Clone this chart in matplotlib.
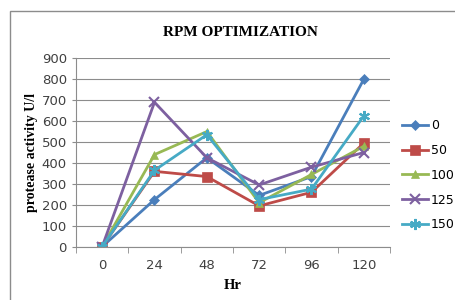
# RPM optimization chart
import numpy as np
import matplotlib.pyplot as plt
from matplotlib.patches import Rectangle

# data
hours = ['0', '24', '48', '72', '96', '120']
rpm_labels = ['0', '50', '100', '125', '150']
rpm_0 = [0, 225, 425, 245, 335, 800]
rpm_50 = [0, 360, 335, 195, 260, 495]
rpm_100 = [0, 440, 550, 210, 345, 480]
rpm_125 = [0, 690, 425, 295, 380, 450]
rpm_150 = [0, 365, 535, 225, 275, 625]

series = [rpm_0, rpm_50, rpm_100, rpm_125, rpm_150]
colors = ['#4A7EBB', '#BE4B48', '#98B954', '#7D60A0', '#46AAC5']
markers = ['D', 's', '^', 'x', (6, 2, 0)]
msizes = [5, 6.5, 6, 7, 8]

fig = plt.figure(figsize=(4.56, 3.0), dpi=100)
# outer chart border (cut off at right and bottom like the reference)
fig.patches.append(Rectangle((10/456, -0.1), 1.0, (300-11)/300 + 0.1,
                             transform=fig.transFigure, fill=False,
                             edgecolor='#8c8c8c', linewidth=1.0))

ax = fig.add_axes([76/456, (300-246.7)/300, (390-76)/456, (246.7-58.3)/300])
x = np.arange(len(hours))
for vals, lab, c, m, ms in zip(series, rpm_labels, colors, markers, msizes):
    ax.plot(x, vals, color=c, marker=m, markersize=ms, linewidth=2,
            markeredgewidth=1.5 if m in ('x', (6, 2, 0)) else 0.5,
            markeredgecolor=c, label=lab)

ax.set_xlim(-0.5, 5.5)
ax.set_ylim(0, 900)
ax.set_yticks(np.arange(0, 901, 100))
ax.set_xticks(x)
ax.set_xticklabels(hours)
ax.set_xticks(np.arange(-0.5, 5.6, 1), minor=True)
ax.tick_params(axis='x', which='major', length=0, pad=9, labelsize=9.5, labelcolor='#404040')
ax.tick_params(axis='x', which='minor', length=4, color='#8c8c8c')
ax.tick_params(axis='y', length=3, color='#8c8c8c', labelsize=9.5, labelcolor='#404040')
ax.grid(axis='y', color='#8c8c8c', linewidth=0.8)
ax.set_axisbelow(True)
for s in ['top', 'right']:
    ax.spines[s].set_visible(False)
for s in ['left', 'bottom']:
    ax.spines[s].set_color('#8c8c8c')

serif = 'Liberation Serif'
fig.text(240/456, 1 - 32/300, 'RPM OPTIMIZATION', ha='center', va='center',
         fontsize=11, fontweight='bold', family=serif)
ax.set_xlabel('Hr', fontsize=10.5, fontweight='bold', family=serif, labelpad=5)
ax.set_ylabel('protease activity U/l', fontsize=10, fontweight='bold', family=serif, labelpad=3)

fig.legend(loc='upper left', bbox_to_anchor=(397/456, 1 - 114/300), frameon=False,
           fontsize=9, handlelength=2.1, labelspacing=0.95, handletextpad=0.2,
           borderaxespad=0)

fig.savefig('out.png', dpi=100)
